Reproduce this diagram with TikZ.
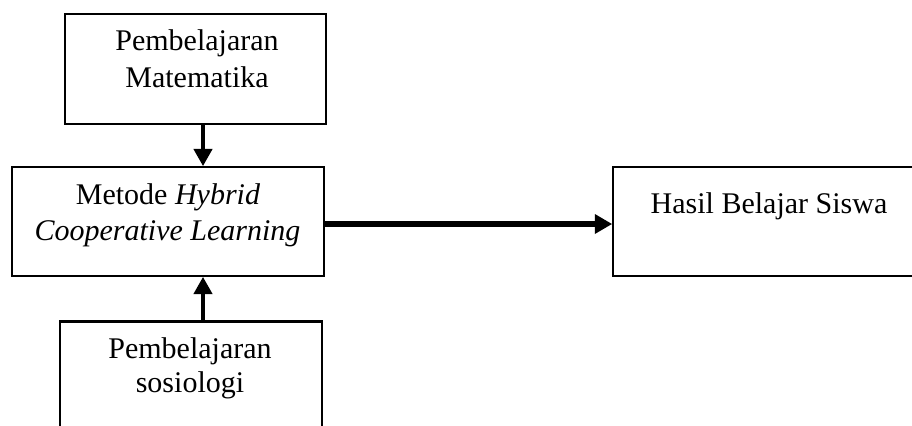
\documentclass[tikz,border=0pt]{standalone}
\usepackage{fontspec}
\setmainfont{Liberation Serif}
\usetikzlibrary{arrows.meta}
\tikzset{
  boxthick/.style={draw, line width=1.9pt, inner sep=0pt},
  boxthin/.style={draw, line width=1.2pt, inner sep=0pt},
  lbl/.style={anchor=base, inner sep=0pt, font=\fontsize{22.5}{27}\selectfont},
  arr/.style={line width=3.4pt, -{Triangle[length=13pt,width=13.5pt]}},
  arrh/.style={line width=4.6pt, -{Triangle[length=13pt,width=14pt]}},
}
\begin{document}
\begin{tikzpicture}[x=0.75pt,y=-0.75pt]
\useasboundingbox (0,0) rectangle (912,425);
\clip (0,0) rectangle (912,425);
% boxes
\node[boxthick, minimum width=195.75pt, minimum height=82.5pt] (top) at (195.5,69) {};
\node[boxthin, minimum width=234pt, minimum height=81.75pt] (mid) at (168,221.5) {};
\node[boxthick, minimum width=196.5pt, minimum height=105pt] (bot) at (191,391.5) {};
\node[boxthin, minimum width=300pt, minimum height=81.75pt] (res) at (813,221.5) {};
% texts
\node[lbl] (t1) at (197,50) {Pembelajaran};
\node[lbl] (t2) at (197,87) {Matematika};
\node[lbl] (m1) at (168,204) {Metode \textit{Hybrid}};
\node[lbl] (m2) at (167.5,240) {\textit{Cooperative Learning}};
\node[lbl] (b1) at (190,358) {Pembelajaran};
\node[lbl] (b2) at (190,392) {sosiologi};
\node[lbl] (r1) at (769,213) {Hasil Belajar Siswa};
% connector guides
\coordinate (ax) at (203,0);
\coordinate (ay) at (0,224);
% connectors
\draw[arr] (top.south -| ax) -- (mid.north -| ax);
\draw[arr] (bot.north -| ax) -- (mid.south -| ax);
\draw[arrh] (mid.east |- ay) -- (res.west |- ay);
\end{tikzpicture}
\end{document}
